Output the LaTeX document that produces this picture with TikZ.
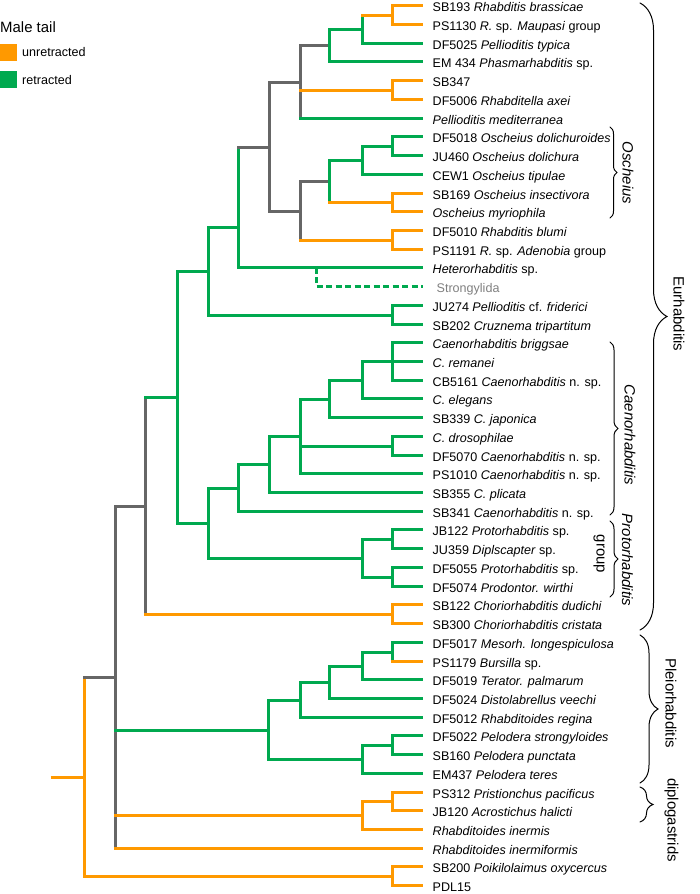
\documentclass[tikz,border=0pt]{standalone}
\usepackage{fontspec}
\setmainfont{Liberation Sans}
\usetikzlibrary{decorations.pathreplacing}
\definecolor{cUnr}{HTML}{FF9900}
\definecolor{cRet}{HTML}{00A94F}
\definecolor{cAmb}{HTML}{666666}
\definecolor{cOut}{HTML}{7F7F7F}
\tikzset{
  unr/.style={draw=cUnr,line width=2.6bp},
  ret/.style={draw=cRet,line width=2.6bp},
  amb/.style={draw=cAmb,line width=2.6bp},
  vbr/.style={line cap=rect},
  hin/.style={line cap=butt,shorten <=-1.3bp,shorten >=1.3bp},
  hlf/.style={line cap=butt,shorten <=-1.3bp},
  outg/.style={draw=cRet,line width=2.6bp,dash pattern=on 6bp off 3.5bp},
  leaf/.style={anchor=west,inner xsep=9.5bp,inner ysep=0pt,text height=12.6pt,text depth=.4pt,font=\fontsize{12.6}{15}\selectfont},
  swatch/.style={anchor=north west,minimum size=16.7bp,inner sep=0pt},
  lgd/.style={anchor=base west,inner sep=0pt,font=\fontsize{12.6}{15}\selectfont},
  clade/.style={rotate=-90,inner sep=0pt,font=\fontsize{15}{18}\selectfont},
  cladeit/.style={clade,font=\fontsize{15}{18}\selectfont\itshape},
  brc/.style={draw=black,line width=1bp,line cap=round,decorate,decoration={brace,amplitude=#1}},
}

\begin{document}
\begin{tikzpicture}[x=1bp,y=-1bp]
  \useasboundingbox (0,0) rectangle (700,894);
  % legend
  \node[lgd,font=\fontsize{15}{18}\selectfont] (ttl) at (0,32.3) {Male tail};
  \node[swatch,fill=cUnr] (kU) at (0,44) {};
  \node[swatch,fill=cRet] (kR) at (0,70.7) {};
  \node[lgd] (tU) at (22,56) {unretracted};
  \node[lgd] (tR) at (22,84.3) {retracted};
  % taxa
  \foreach \i/\txt in {
    1/{SB193 \textit{Rhabditis brassicae}},
    2/{PS1130 \textit{R.} sp. \textit{Maupasi} group},
    3/{DF5025 \textit{Pellioditis typica}},
    4/{EM 434 \textit{Phasmarhabditis} sp.},
    5/{SB347},
    6/{DF5006 \textit{Rhabditella axei}},
    7/{\textit{Pellioditis mediterranea}},
    8/{DF5018 \textit{Oscheius dolichuroides}},
    9/{JU460 \textit{Oscheius dolichura}},
    10/{CEW1 \textit{Oscheius tipulae}},
    11/{SB169 \textit{Oscheius insectivora}},
    12/{\textit{Oscheius myriophila}},
    13/{DF5010 \textit{Rhabditis blumi}},
    14/{PS1191 \textit{R.} sp. \textit{Adenobia} group},
    15/{\textit{Heterorhabditis} sp.},
    17/{JU274 \textit{Pellioditis} cf. \textit{friderici}},
    18/{SB202 \textit{Cruznema tripartitum}},
    19/{\textit{Caenorhabditis briggsae}},
    20/{\textit{C. remanei}},
    21/{CB5161 \textit{Caenorhabditis} n. sp.},
    22/{\textit{C. elegans}},
    23/{SB339 \textit{C. japonica}},
    24/{\textit{C. drosophilae}},
    25/{DF5070 \textit{Caenorhabditis} n. sp.},
    26/{PS1010 \textit{Caenorhabditis} n. sp.},
    27/{SB355 \textit{C. plicata}},
    28/{SB341 \textit{Caenorhabditis} n. sp.},
    29/{JB122 \textit{Protorhabditis} sp.},
    30/{JU359 \textit{Diplscapter} sp.},
    31/{DF5055 \textit{Protorhabditis} sp.},
    32/{DF5074 \textit{Prodontor. wirthi}},
    33/{SB122 \textit{Choriorhabditis dudichi}},
    34/{SB300 \textit{Choriorhabditis cristata}},
    35/{DF5017 \textit{Mesorh. longespiculosa}},
    36/{PS1179 \textit{Bursilla} sp.},
    37/{DF5019 \textit{Terator. palmarum}},
    38/{DF5024 \textit{Distolabrellus veechi}},
    39/{DF5012 \textit{Rhabditoides regina}},
    40/{DF5022 \textit{Pelodera strongyloides}},
    41/{SB160 \textit{Pelodera punctata}},
    42/{EM437 \textit{Pelodera teres}},
    43/{PS312 \textit{Pristionchus pacificus}},
    44/{JB120 \textit{Acrostichus halicti}},
    45/{\textit{Rhabditoides inermis}},
    46/{\textit{Rhabditoides inermiformis}},
    47/{SB200 \textit{Poikilolaimus oxycercus}},
    48/{PDL15}}
    \node[leaf] (l\i) at (423,{round(5.3+18.72*(\i-1))+0.5}) {\txt};
  \node[leaf,text=cOut,inner xsep=13.5bp] (l16) at (423,286.5) {Strongylida};
  % inner nodes
  \coordinate (nA) at (392.5,15.5);
  \coordinate (nB) at (362.5,29.5);
  \coordinate (nC) at (329.5,45.5);
  \coordinate (nD) at (392.5,90.5);
  \coordinate (nE) at (300.5,82.5);
  \coordinate (nF) at (392.5,146.5);
  \coordinate (nG) at (362.5,160.5);
  \coordinate (nH) at (392.5,202.5);
  \coordinate (nI) at (329.5,181.5);
  \coordinate (nJ) at (392.5,240.5);
  \coordinate (nK) at (300.5,211.5);
  \coordinate (nL) at (269.5,147.5);
  \coordinate (nM) at (238.5,227.5);
  \coordinate (nN) at (392.5,315.5);
  \coordinate (nO) at (208.5,271.5);
  \coordinate (nP) at (392.5,361.5);
  \coordinate (nQ) at (362.5,380.5);
  \coordinate (nR) at (329.5,399.5);
  \coordinate (nS) at (392.5,446.5);
  \coordinate (nT) at (300.5,436.5);
  \coordinate (nU) at (269.5,464.5);
  \coordinate (nV) at (238.5,488.5);
  \coordinate (nW) at (392.5,539.5);
  \coordinate (nX) at (392.5,577.5);
  \coordinate (nY) at (362.5,558.5);
  \coordinate (nZ) at (208.5,523.5);
  \coordinate (n1) at (177.5,397.5);
  \coordinate (n2) at (392.5,614.5);
  \coordinate (n3) at (145.5,506.5);
  \coordinate (n4) at (392.5,652.5);
  \coordinate (n5) at (362.5,666.5);
  \coordinate (n6) at (329.5,682.5);
  \coordinate (n7) at (300.5,700.5);
  \coordinate (n8) at (392.5,745.5);
  \coordinate (n9) at (362.5,759.5);
  \coordinate (n10) at (268.5,730.5);
  \coordinate (n11) at (392.5,801.5);
  \coordinate (n12) at (362.5,815.5);
  \coordinate (n13) at (115.5,677.5);
  \coordinate (n14) at (392.5,876.5);
  \coordinate (n15) at (84.5,777.5);
  \coordinate (rt) at (52,777.5);
  \coordinate (nStr) at (316.5,267.5);
  % outgroup hung on the Heterorhabditis branch
  \draw[outg] (nStr) |- (l16.west);
  % verticals
  \foreach \n/\a/\b/\s in {nA/l1/l2/unr, nB/nA/l3/ret, nC/nB/l4/ret, nD/l5/l6/unr,
    nE/nC/l7/amb, nF/l8/l9/ret, nG/nF/l10/ret, nH/l11/l12/unr, nI/nG/nH/ret,
    nJ/l13/l14/unr, nK/nI/nJ/amb, nL/nE/nK/amb, nM/nL/l15/ret, nN/l17/l18/ret,
    nO/nM/nN/ret, nP/l19/l21/ret, nQ/nP/l22/ret, nR/nQ/l23/ret, nS/l24/l25/ret,
    nT/nR/l26/ret, nU/nT/l27/ret, nV/nU/l28/ret, nW/l29/l30/ret, nX/l31/l32/ret,
    nY/nW/nX/ret, nZ/nV/nY/ret, n1/nO/nZ/ret, n2/l33/l34/unr, n3/n1/n2/amb,
    n4/l35/l36/ret, n5/n4/l37/ret, n6/n5/l38/ret, n7/n6/l39/ret, n8/l40/l41/ret,
    n9/n8/l42/ret, n10/n7/n9/ret, n11/l43/l44/unr, n12/n11/l45/unr,
    n13/n3/l46/amb, n14/l47/l48/unr, n15/n13/n14/unr}
    \draw[\s,vbr] (\n |- \a) -- (\n |- \b);
  % branches to inner nodes
  \foreach \p/\c/\s in {nB/nA/unr, nC/nB/ret, nE/nC/amb, nE/nD/unr, nL/nE/amb,
    nG/nF/ret, nI/nG/ret, nI/nH/unr, nK/nI/amb, nK/nJ/unr, nL/nK/amb, nM/nL/amb,
    nO/nM/ret, nO/nN/ret, n1/nO/ret, nQ/nP/ret, nR/nQ/ret, nT/nR/ret, nT/nS/ret,
    nU/nT/ret, nV/nU/ret, nZ/nV/ret, nY/nW/ret, nY/nX/ret, nZ/nY/ret, n1/nZ/ret,
    n3/n1/ret, n3/n2/unr, n13/n3/amb, n5/n4/ret, n6/n5/ret, n7/n6/ret, n10/n7/ret,
    n9/n8/ret, n10/n9/ret, n13/n10/ret, n12/n11/unr, n13/n12/unr, n15/n13/amb,
    n15/n14/unr, rt/n15/unr}
    \draw[\s,hin] (\p |- \c) -- (\c);
  % branches to taxa
  \foreach \p/\c/\s in {nA/1/unr, nA/2/unr, nB/3/ret, nC/4/ret, nD/5/unr, nD/6/unr,
    nE/7/ret, nF/8/ret, nF/9/ret, nG/10/ret, nH/11/unr, nH/12/unr, nJ/13/unr,
    nJ/14/unr, nM/15/ret, nN/17/ret, nN/18/ret, nP/19/ret, nP/20/ret, nP/21/ret,
    nQ/22/ret, nR/23/ret, nS/24/ret, nS/25/ret, nT/26/ret, nU/27/ret, nV/28/ret,
    nW/29/ret, nW/30/ret, nX/31/ret, nX/32/ret, n2/33/unr, n2/34/unr, n4/35/ret,
    n4/36/unr, n5/37/ret, n6/38/ret, n7/39/ret, n8/40/ret, n8/41/ret, n9/42/ret,
    n11/43/unr, n11/44/unr, n12/45/unr, n13/46/unr, n14/47/unr, n14/48/unr}
    \draw[\s,hlf] (\p |- l\c) -- (l\c.west);
  % clades
  \draw[brc=27bp] (640,3) -- (640,630);
  \node[clade] (cEur) at (679,314) {Eurhabditis};
  \draw[brc=7bp] (610,127) -- (610,218);
  \node[cladeit] (cOsc) at (628,173) {Oscheius};
  \draw[brc=8bp] (610,342) -- (610,515);
  \node[cladeit] (cCae) at (630,435) {Caenorhabditis};
  \draw[brc=8bp] (610,521) -- (610,597);
  \node[cladeit] (cPro) at (627.5,560) {Protorhabditis};
  \node[clade] (cGrp) at (599,554) {group};
  \draw[brc=18bp] (640,635) -- (640,783);
  \node[clade] (cPle) at (671,703) {Pleiorhabditis};
  \draw[brc=13bp] (640,787) -- (640,822);
  \node[clade] (cDip) at (671.5,820) {diplogastrids};
\end{tikzpicture}
\end{document}
